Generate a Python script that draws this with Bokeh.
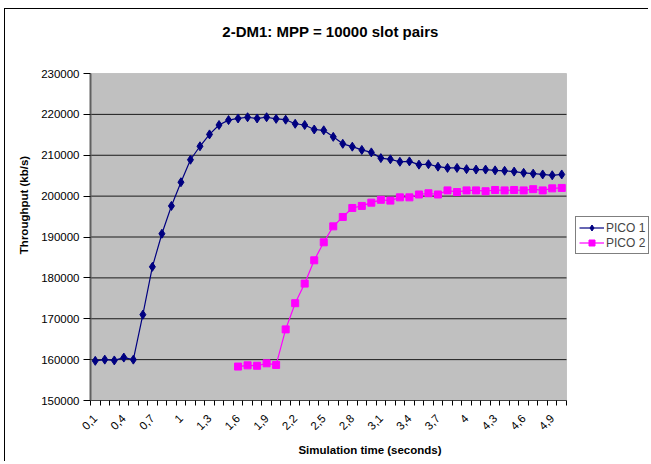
from bokeh.plotting import figure
from bokeh.models import (ColumnDataSource, FixedTicker, Range1d, Legend, LegendItem,
                          BasicTickFormatter, BoxAnnotation, Label)
from bokeh.embed import file_html
from bokeh.resources import INLINE
import math

times = [0.1, 0.2, 0.3, 0.4, 0.5, 0.6, 0.7, 0.8, 0.9, 1.0,
         1.1, 1.2, 1.3, 1.4, 1.5, 1.6, 1.7, 1.8, 1.9, 2.0,
         2.1, 2.2, 2.3, 2.4, 2.5, 2.6, 2.7, 2.8, 2.9, 3.0,
         3.1, 3.2, 3.3, 3.4, 3.5, 3.6, 3.7, 3.8, 3.9, 4.0,
         4.1, 4.2, 4.3, 4.4, 4.5, 4.6, 4.7, 4.8, 4.9, 5.0]

pico1 = [159700, 160000, 159800, 160500, 160000, 171000, 182700, 190800, 197600, 203400,
         208900, 212200, 215100, 217400, 218600, 219000, 219300, 219000, 219300, 218900,
         218700, 217700, 217400, 216300, 216100, 214500, 212800, 212100, 211300, 210700,
         209300, 209000, 208400, 208500, 207700, 207800, 207200, 206900, 206900, 206600,
         206500, 206500, 206300, 206200, 206000, 205700, 205500, 205300, 205100, 205300]

nan = float("nan")
pico2 = [nan] * 15 + [
         158300, 158600, 158500, 159100, 158700,
         167400, 173800, 178600, 184300, 188700, 192600, 194900, 197100, 197600, 198400,
         199100, 198900, 199700, 199700, 200400, 200700, 200400, 201400, 201000, 201400,
         201400, 201200, 201500, 201400, 201500, 201400, 201700, 201400, 201900, 202000]

y_ticks = [150000, 160000, 170000, 180000, 190000, 200000, 210000, 220000, 230000]

title_text = "2-DM1: MPP = 10000 slot pairs"
labels = [("%g" % t).replace(".", ",") for t in times]
idx = list(range(len(times)))
n = len(times)

src = ColumnDataSource(dict(x=idx, p1=pico1, p2=pico2))

FONT = "Liberation Sans"

# layout (pixels); the canvas is shifted by a CSS margin + 1px frame border
SHIFT_X, SHIFT_Y = 5, 9
W, H = 649 - SHIFT_X, 462 - SHIFT_Y
LEFT, BOTTOM = 90 - SHIFT_X, 62
AREA_TOP = 73 - SHIFT_Y       # top of the grey plot area, from the canvas top
data_px = 476.0               # width of the category area
px_per_cat = data_px / n
area_h = (H - BOTTOM) - AREA_TOP
y_per_px = (y_ticks[-1] - y_ticks[0]) / area_h
x_end = -0.5 + (W - LEFT) / px_per_cat
y_end = y_ticks[0] + (H - BOTTOM) * y_per_px

p = figure(width=W, height=H, output_backend="svg", toolbar_location=None, title=None,
           x_range=Range1d(-0.5, x_end), y_range=Range1d(y_ticks[0], y_end),
           min_border_left=LEFT, min_border_right=0, min_border_top=0,
           min_border_bottom=BOTTOM)

p.styles = {"margin-left": "4px", "margin-top": "8px",
            "border-left": "1px solid black", "border-top": "1px solid black"}

p.background_fill_color = "white"
p.border_fill_color = "white"
p.outline_line_color = None

# plot area (category region only)
p.add_layout(BoxAnnotation(left=-0.5, right=n - 0.5, bottom=y_ticks[0], top=y_ticks[-1],
                           fill_color="#C0C0C0", fill_alpha=1, line_color="#808080",
                           line_width=1, level="underlay"))

# horizontal grid lines limited to the plot area
p.segment(x0=[-0.5] * (len(y_ticks) - 2), x1=[n - 0.5] * (len(y_ticks) - 2),
          y0=y_ticks[1:-1], y1=y_ticks[1:-1], line_color="#1a1a1a", line_width=1)

# chart title
p.add_layout(Label(x=(n - 1) / 2 + 2 / px_per_cat, y=y_ticks[-1] + 42 * y_per_px,
                   text=title_text, text_font=FONT, text_font_size="15px",
                   text_font_style="bold", text_align="center", text_baseline="middle",
                   text_color="black"))

# x axis
p.xaxis.bounds = (-0.5, n - 0.5)
p.xaxis.ticker = FixedTicker(ticks=idx[::3], minor_ticks=[i - 0.5 for i in range(n + 1)])
p.xaxis.major_label_overrides = {i: labels[i] for i in idx}
p.xaxis.major_label_orientation = math.pi / 4
p.xaxis.major_tick_out = 0
p.xaxis.major_tick_in = 0
p.xaxis.minor_tick_out = 5
p.xaxis.minor_tick_in = 0
p.xaxis.minor_tick_line_color = "black"
p.xaxis.axis_line_color = "#404040"
p.xaxis.major_label_standoff = 11
p.xaxis.axis_label = "Simulation time (seconds)"
p.xaxis.axis_label_standoff = 8

# y axis
p.yaxis.bounds = (y_ticks[0], y_ticks[-1])
p.yaxis.ticker = FixedTicker(ticks=y_ticks)
p.yaxis.formatter = BasicTickFormatter(use_scientific=False)
p.yaxis.major_tick_out = 7
p.yaxis.major_tick_in = 0
p.yaxis.minor_tick_line_color = None
p.yaxis.major_tick_line_color = "black"
p.yaxis.axis_line_color = "#606060"
p.yaxis.axis_line_width = 2
p.yaxis.major_label_standoff = 4
p.yaxis.axis_label = "Throughput (kb/s)"
p.yaxis.axis_label_standoff = 8

for ax in (p.xaxis, p.yaxis):
    ax.major_label_text_font = FONT
    ax.major_label_text_font_size = "11.5px"
    ax.major_label_text_color = "black"
    ax.axis_label_text_font = FONT
    ax.axis_label_text_font_size = "11.5px"
    ax.axis_label_text_font_style = "bold"
    ax.axis_label_text_color = "black"

p.xgrid.visible = False
p.ygrid.visible = False

l1 = p.line("x", "p1", source=src, line_color="#000080", line_width=1.2)
s1 = p.scatter("x", "p1", source=src, marker="diamond", size=9, fill_color="#000080",
               line_color="#000080")
l2 = p.line("x", "p2", source=src, line_color="#FF00FF", line_width=1.2)
s2 = p.scatter("x", "p2", source=src, marker="square", size=7, fill_color="#FF00FF",
               line_color="#FF00FF")

legend = Legend(items=[LegendItem(label="PICO 1", renderers=[l1, s1]),
                       LegendItem(label="PICO 2", renderers=[l2, s2])],
                location=(485, 146))
legend.label_text_font = FONT
legend.label_text_font_size = "12px"
legend.border_line_color = "black"
legend.border_line_width = 1
legend.background_fill_color = "white"
legend.background_fill_alpha = 1
legend.padding = 3
legend.spacing = 0
legend.margin = 0
legend.glyph_width = 25
legend.glyph_height = 15
legend.label_height = 15
legend.label_standoff = 2
p.add_layout(legend, "center")

open("out.html", "w").write(file_html(p, INLINE))
